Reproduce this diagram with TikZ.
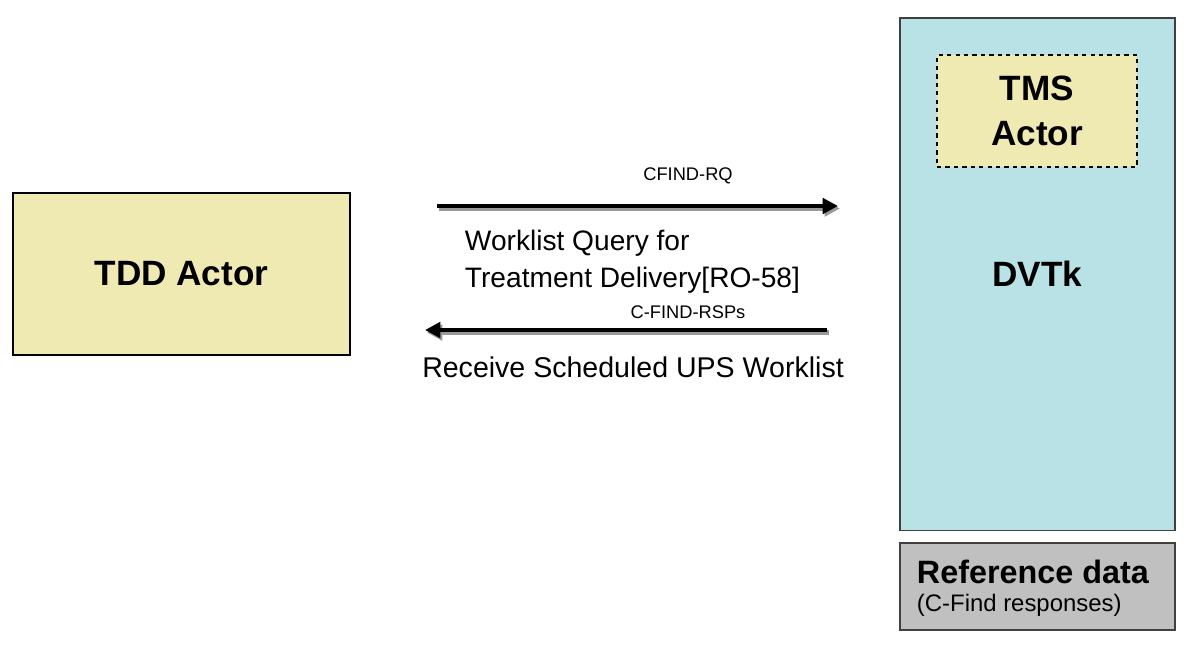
\documentclass[tikz,border=0pt]{standalone}
\usepackage{fontspec}
\setmainfont{Liberation Sans}
\usetikzlibrary{positioning,arrows.meta}

\definecolor{actorfill}{RGB}{239,233,178}
\definecolor{dvtkfill}{RGB}{184,226,230}
\definecolor{reffill}{RGB}{192,192,192}

\tikzset{
  box/.style={draw, line width=0.8pt, inner sep=0pt},
  msg/.style={line width=3.2pt, -{Triangle[length=11pt,width=11pt]},
    preaction={draw=black!40, line width=3.2pt, transform canvas={shift={(1.4pt,-1.8pt)}}}},
  small/.style={font=\fontsize{13}{15}\selectfont},
  big/.style={font=\fontsize{25}{32}\selectfont\bfseries},
  mid/.style={font=\fontsize{20}{26}\selectfont}
}

\begin{document}
\begin{tikzpicture}[x=0.025cm,y=-0.025cm]

\useasboundingbox (0,0) rectangle (1188,647);

%------------------------
% Actors
%------------------------
\node[box,fill=actorfill,minimum width=8.425cm,minimum height=4.05cm,big]
  (tdd) at (181.5,274) {TDD Actor};

\node[box,draw=black!75,fill=dvtkfill,minimum width=6.875cm,minimum height=12.8cm,big]
  (dvtk) at (1037.5,274) {DVTk};

\node[box,dashed,fill=actorfill,minimum width=5cm,minimum height=2.8cm,big,align=center]
  (tms) at (1037,111) {TMS\\Actor};

%------------------------
% Reference data
%------------------------
\node[box,draw=black!75,fill=reffill,minimum width=6.875cm,minimum height=2.175cm]
  (refdata) at (1037.5,586.5) {};
\node[font=\fontsize{23}{27}\selectfont\bfseries,anchor=west]
  (refhead) at (912,572) {Reference data};
\node[font=\fontsize{17}{19}\selectfont,anchor=west]
  (refsub) at (912,605) {(C-Find responses)};

%------------------------
% Messages
%------------------------
\coordinate (rqA) at (437,206);
\coordinate (rqB) at (838,206);
\coordinate (rspA) at (827,330);
\coordinate (rspB) at (425,330);

\draw[msg] (rqA) -- (rqB);
\draw[msg] (rspA) -- (rspB);

\node[small] (rqlabel) at (688,176) {CFIND-RQ};
\node[small] (rsplabel) at (688,312) {C-FIND-RSPs};

\node[mid,align=left,anchor=west] (query) at (460,261.5)
  {Worklist Query for\\Treatment Delivery[RO-58]};
\node[mid,font=\fontsize{20.3}{26}\selectfont] (receive) at (633,367) {Receive Scheduled UPS Worklist};

\end{tikzpicture}
\end{document}
